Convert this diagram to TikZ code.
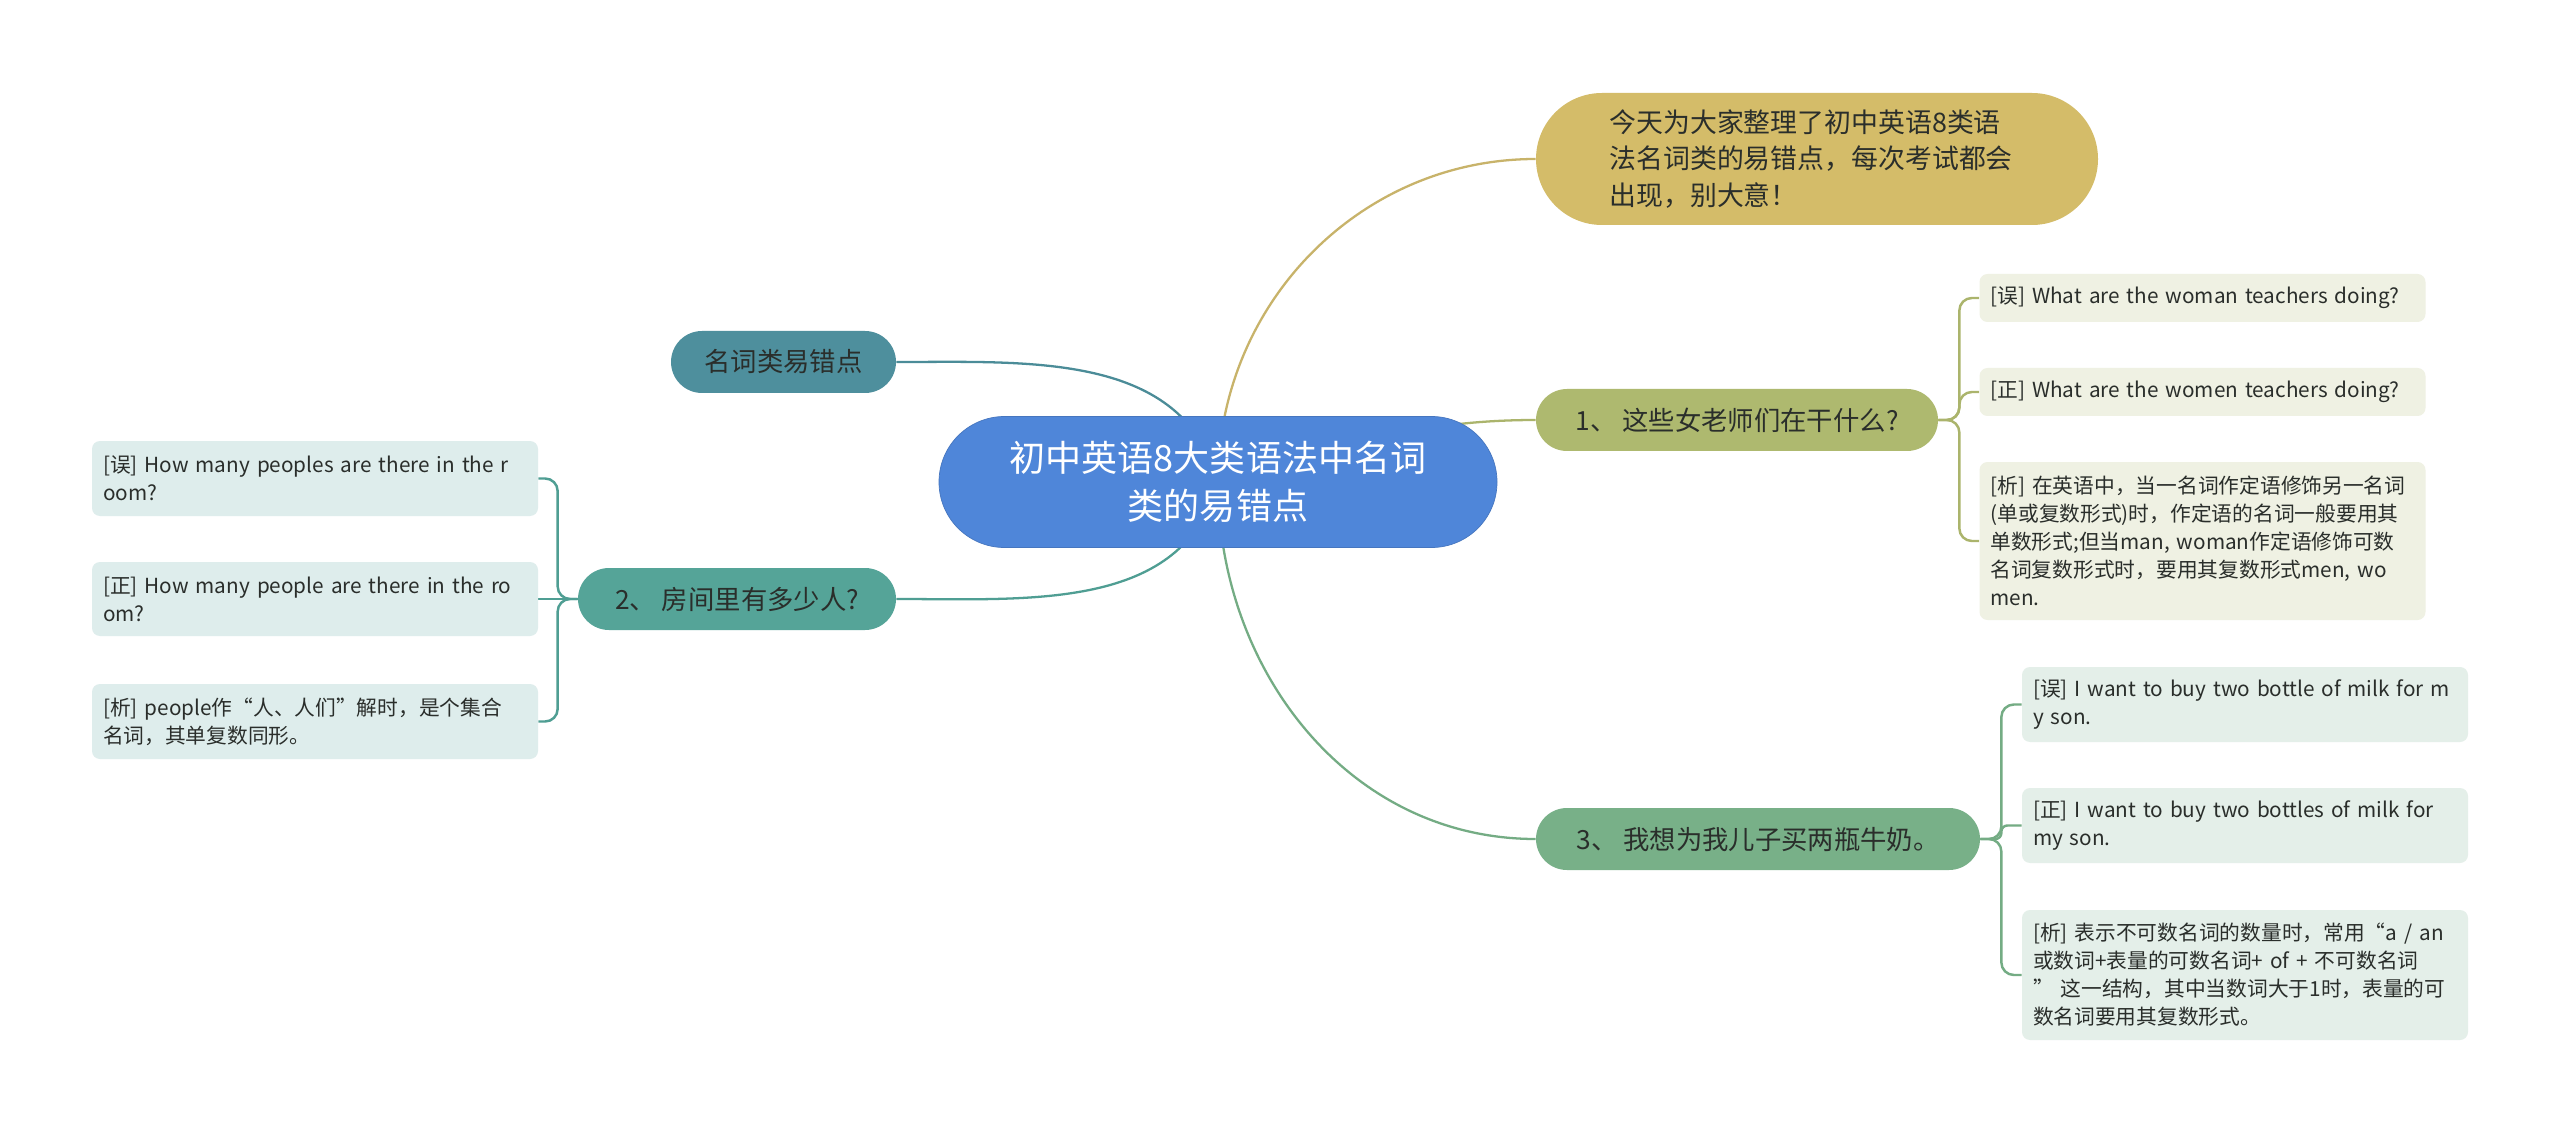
\documentclass[tikz,border=0pt]{standalone}
\usepackage{fontspec}
\setmainfont{Noto Sans CJK SC}
\usepackage{xcolor}
\usepackage{tikz}
\usetikzlibrary{positioning, backgrounds}
\definecolor{mmBlue}{HTML}{4F86D9}
\definecolor{mmGold}{HTML}{D4BC69}
\definecolor{mmGoldLine}{HTML}{C8B36A}
\definecolor{mmOlive}{HTML}{AEB96F}
\definecolor{mmOliveLine}{HTML}{ABB46C}
\definecolor{mmOliveLight}{HTML}{EFF1E3}
\definecolor{mmTealBlue}{HTML}{4E8F9D}
\definecolor{mmTealBlueLine}{HTML}{4B8C98}
\definecolor{mmTeal}{HTML}{55A498}
\definecolor{mmTealLine}{HTML}{4F9E93}
\definecolor{mmTealLight}{HTML}{DEEDEC}
\definecolor{mmGreen}{HTML}{78B088}
\definecolor{mmGreenLine}{HTML}{74AC84}
\definecolor{mmGreenLight}{HTML}{E4EFE9}
\definecolor{mmInk}{HTML}{2A2E2B}
\tikzset{
  rootnode/.style={
    rectangle, rounded corners=1.31cm,
    fill=mmBlue, draw=mmBlue!88!black, line width=0.4pt,
    minimum width=11.16cm, minimum height=2.62cm,
    align=center, text=white,
    font=\fontsize{20.5}{27}\selectfont
  },
  topic/.style={
    rectangle, rounded corners=0.62cm,
    fill=#1,
    minimum height=1.24cm,
    align=center, text=mmInk,
    font=\fontsize{15}{20}\selectfont
  },
  leaf/.style={
    rectangle, rounded corners=0.16cm,
    fill=#1,
    minimum width=8.92cm, text width=8.48cm, inner xsep=0.22cm,
    align=left, text=mmInk,
    font=\fontsize{11.8}{15.9}\selectfont
  },
  branch/.style={draw=#1, line width=1.3pt},
  bracket/.style={draw=#1, line width=1.4pt, rounded corners=0.25cm}
}

\begin{document}
\begin{tikzpicture}
  \useasboundingbox (0,0) rectangle (51.2,-22.64);
  \node[rootnode] (root) at (24.36,-9.64) {初中英语8大类语法中名词\\类的易错点};
  \node[topic=mmGold, minimum width=11.24cm, minimum height=2.64cm, rounded corners=1.32cm, text width=8.3cm, align=left, font=\fontsize{15.3}{20.9}\selectfont] (intro) at (36.34,-3.18) {今天为大家整理了初中英语8类语\\法名词类的易错点，每次考试都会\\出现，别大意！};
  \node[topic=mmTealBlue, minimum width=4.5cm] (nouns) at (15.67,-7.24) {名词类易错点};
  \node[topic=mmOlive, minimum width=8.04cm] (n1) at (34.74,-8.40) {1、 这些女老师们在干什么?};
  \node[topic=mmTeal, minimum width=6.36cm] (n2) at (14.74,-11.98) {2、 房间里有多少人?};
  \node[topic=mmGreen, minimum width=8.88cm] (n3) at (35.16,-16.78) {3、 我想为我儿子买两瓶牛奶。};

  \node[leaf=mmOliveLight, minimum height=0.96cm] (wrong1) at (44.05,-5.96) {[误] What are the woman teachers doing?};
  \node[leaf=mmOliveLight, minimum height=0.96cm] (right1) at (44.05,-7.84) {[正] What are the women teachers doing?};
  \node[leaf=mmOliveLight, minimum height=3.16cm] (note1) at (44.05,-10.82) {[析] 在英语中，当一名词作定语修饰另一名词\\(单或复数形式)时，作定语的名词一般要用其\\单数形式;但当man, woman作定语修饰可数\\名词复数形式时，要用其复数形式men, wo\\men.};

  \node[leaf=mmTealLight, minimum height=1.5cm] (wrong2) at (6.30,-9.57) {[误] How many peoples are there in the r\\oom?};
  \node[leaf=mmTealLight, minimum height=1.48cm] (right2) at (6.30,-11.98) {[正] How many people are there in the ro\\om?};
  \node[leaf=mmTealLight, minimum height=1.5cm] (note2) at (6.30,-14.43) {[析] people作“人、人们”解时，是个集合\\名词，其单复数同形。};

  \node[leaf=mmGreenLight, minimum height=1.5cm] (wrong3) at (44.90,-14.09) {[误] I want to buy two bottle of milk for m\\y son.};
  \node[leaf=mmGreenLight, minimum height=1.5cm] (right3) at (44.90,-16.51) {[正] I want to buy two bottles of milk for\\my son.};
  \node[leaf=mmGreenLight, minimum height=2.6cm] (note3) at (44.90,-19.50) {[析] 表示不可数名词的数量时，常用“a / an\\或数词+表量的可数名词+ of + 不可数名词\\” 这一结构，其中当数词大于1时，表量的可\\数名词要用其复数形式。};

  \begin{scope}[on background layer]
    \fill[white] (0,0) rectangle (51.2,-22.64);
    \draw[branch=mmGoldLine] (root.center) to[out=90, in=180] (intro.west);
    \draw[branch=mmOliveLine] (root.center) to[out=15, in=180] (n1.west);
    \draw[branch=mmGreenLine] (root.center) to[out=-90, in=180] (n3.west);
    \draw[branch=mmTealBlueLine] (root.center) to[out=105, in=0] (nouns.east);
    \draw[branch=mmTealLine] (root.center) to[out=-105, in=0] (n2.east);

    \draw[bracket=mmOliveLine] (n1.east) -- ++(0.42,0) |- (wrong1.west);
    \draw[bracket=mmOliveLine] (n1.east) -- ++(0.42,0) |- (right1.west);
    \draw[bracket=mmOliveLine] (n1.east) -- ++(0.42,0) |- (note1.west);

    \draw[bracket=mmTealLine] (n2.west) -- ++(-0.4,0) |- (wrong2.east);
    \draw[bracket=mmTealLine] (n2.west) -- (right2.east);
    \draw[bracket=mmTealLine] (n2.west) -- ++(-0.4,0) |- (note2.east);

    \draw[bracket=mmGreenLine] (n3.east) -- ++(0.42,0) |- (wrong3.west);
    \draw[bracket=mmGreenLine, rounded corners=0.12cm] (n3.east) -- ++(0.42,0) |- (right3.west);
    \draw[bracket=mmGreenLine] (n3.east) -- ++(0.42,0) |- (note3.west);
  \end{scope}
\end{tikzpicture}
\end{document}
